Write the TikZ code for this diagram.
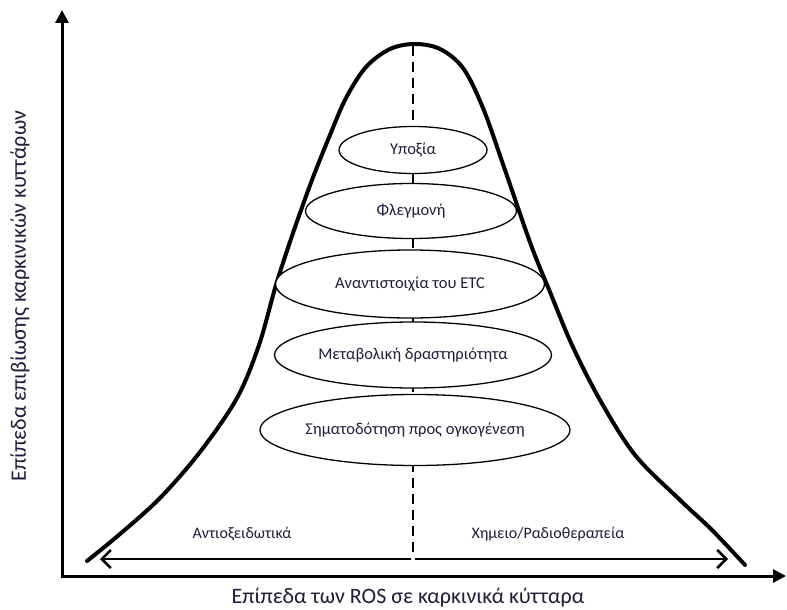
\documentclass[tikz,border=0pt]{standalone}
\usepackage{fontspec}
\setmainfont{Carlito}
\usetikzlibrary{arrows.meta,shapes.geometric}
\definecolor{txt}{HTML}{1E1E3C}
\begin{document}
\begin{tikzpicture}[x=1pt,y=-1pt,
  axis/.style={line width=3pt,-{Triangle[length=13pt,width=13pt]}},
  curve/.style={line width=4pt,line cap=round},
  rangearrow/.style={line width=2.5pt,-{Straight Barb[length=9pt,width=18pt,line width=2.5pt]}},
  level/.style={ellipse,draw=black,line width=1.3pt,fill=white,inner sep=0pt,text=txt,font=\fontsize{16.5}{19}\selectfont},
  lbl/.style={text=txt,font=\fontsize{16}{19}\selectfont},
  axlbl/.style={text=txt,font=\fontsize{22}{26}\selectfont}]
\useasboundingbox (0,0) rectangle (787,610);
\fill[white] (0,0) rectangle (787,610);
% axes
\coordinate (O) at (62,576);
\coordinate (ytip) at (62,10);
\coordinate (xtip) at (786,576);
\draw[axis] (62,577.5) -- (ytip);
\draw[axis] (60.5,576) -- (xtip);
% centre dashed line
\coordinate (peak) at (413,46);
\coordinate (base) at (413,556);
\draw[line width=2.5pt,dash pattern=on 10pt off 6pt] (peak) -- (base);
% bell curve
\draw[curve] plot[smooth,tension=0.55] coordinates {
 (87,561) (120,534) (160,498) (200,452) (237,398) (259,345) (276,285) (293,233)
 (312,180) (330,135) (346,98) (366,67) (390,49) (415,44)
 (440,49) (463,68) (483,108) (505,170) (531,245) (550,292) (572,345) (600,400)
 (635,455) (680,500) (712,530) (745,565)};
% range arrows
\coordinate (mid) at (413,559);
\coordinate (lefttip) at (100,559);
\coordinate (righttip) at (728,559);
\draw[rangearrow] ([xshift=-2pt]mid) -- (lefttip);
\draw[rangearrow] ([xshift=2pt]mid) -- (righttip);
% levels
\node[level,minimum width=148pt,minimum height=47pt] (e1) at (413,150) {Υποξία};
\node[level,minimum width=211pt,minimum height=55pt] (e2) at (411,211) {Φλεγμονή};
\node[level,minimum width=269pt,minimum height=68pt] (e3) at (410,284) {Αναντιστοιχία του ETC};
\node[level,minimum width=277pt,minimum height=66pt] (e4) at (413,355) {Μεταβολική δραστηριότητα};
\node[level,minimum width=306pt,minimum height=71pt] (e5) at (415,430) {Σηματοδότηση προς ογκογένεση};
% labels
\node[lbl] (anti) at (242,534) {Αντιοξειδωτικά};
\node[lbl] (chemo) at (548,534) {Χημειο/Ραδιοθεραπεία};
\node[axlbl] (xl) at (408,598) {Επίπεδα των ROS σε καρκινικά κύτταρα};
\node[axlbl,rotate=90] (yl) at (20,296) {Επίπεδα επιβίωσης καρκινικών κυττάρων};
\end{tikzpicture}
\end{document}
